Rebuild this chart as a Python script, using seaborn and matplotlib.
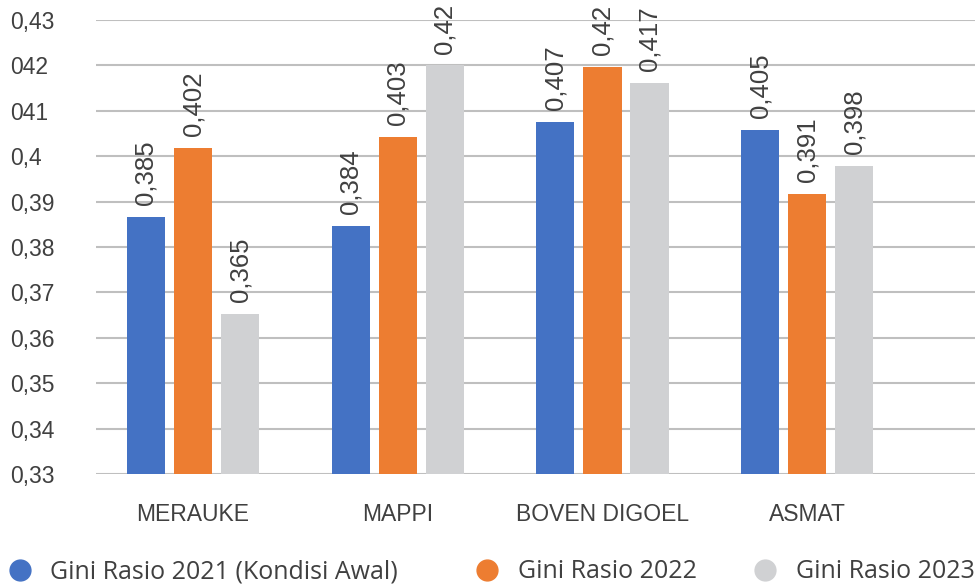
import pandas as pd
import matplotlib.pyplot as plt
import seaborn as sns
from matplotlib.lines import Line2D

# Data
regions = ["MERAUKE", "MAPPI", "BOVEN DIGOEL", "ASMAT"]
series = ["Gini Rasio 2021 (Kondisi Awal)", "Gini Rasio 2022", "Gini Rasio 2023"]
gini_2021 = [0.3866, 0.3847, 0.4075, 0.4058]
gini_2022 = [0.4018, 0.4042, 0.4197, 0.3917]
gini_2023 = [0.3653, 0.4200, 0.4162, 0.3979]
labels_2021 = ["0,385", "0,384", "0,407", "0,405"]
labels_2022 = ["0,402", "0,403", "0,42", "0,391"]
labels_2023 = ["0,365", "0,42", "0,417", "0,398"]
ytick_vals = [0.33, 0.34, 0.35, 0.36, 0.37, 0.38, 0.39, 0.40, 0.41, 0.42, 0.43]
ytick_labels = ["0,33", "0,34", "0,35", "0,36", "0,37", "0,38", "0,39", "0,4", "041", "042", "0,43"]

colors = ["#4472C4", "#ED7D31", "#D0D1D3"]
text_color = "#404040"

df = pd.DataFrame({
    "region": regions * 3,
    "series": [s for s in series for _ in regions],
    "value": gini_2021 + gini_2022 + gini_2023,
})

sns.set_style("white")
plt.rcParams["font.family"] = ["Liberation Sans", "DejaVu Sans"]

fig = plt.figure(figsize=(9.75, 5.87), dpi=100)
ax = fig.add_axes([96 / 975, 113 / 587, 1 - 96 / 975, 454 / 587])

sns.barplot(data=df, x="region", y="value", hue="series", palette=colors,
            width=0.69, gap=0.19, saturation=1, linewidth=0, legend=False,
            ax=ax, zorder=3)

for cont, labs in zip(ax.containers, [labels_2021, labels_2022, labels_2023]):
    ax.bar_label(cont, labels=labs, rotation=90, padding=8.5,
                 fontsize=18.5, color=text_color)

ax.set_ylim(0.33, 0.43)
ax.set_xlim(-0.474, 3.82)
ax.set_yticks(ytick_vals)
ax.set_yticklabels(ytick_labels)
for t in ax.get_yticklabels():
    t.set_ha("left")
ax.tick_params(axis="y", length=0, pad=62, labelsize=16.5, labelcolor=text_color)
ax.tick_params(axis="x", length=0, pad=21, labelsize=16.5, labelcolor=text_color)
ax.grid(axis="y", color="#BFBFBF", linewidth=1.5, zorder=0)
ax.set_xlabel("")
ax.set_ylabel("")
for sp in ax.spines.values():
    sp.set_visible(False)

# legend entries placed one by one along the bottom
legend_x = [5, 472, 750]
for name, c, x0 in zip(series, colors, legend_x):
    h = Line2D([], [], marker="o", linestyle="", markersize=15,
               markerfacecolor=c, markeredgecolor=c)
    leg = fig.legend([h], [name], loc="center left",
                     bbox_to_anchor=(x0 / 975, 15 / 587), frameon=False,
                     handlelength=1.2, handletextpad=0.62, borderaxespad=0,
                     borderpad=0, labelcolor=text_color,
                     prop={"family": ["Open Sans", "DejaVu Sans"], "size": 18})

fig.savefig("out.png", dpi=100)
